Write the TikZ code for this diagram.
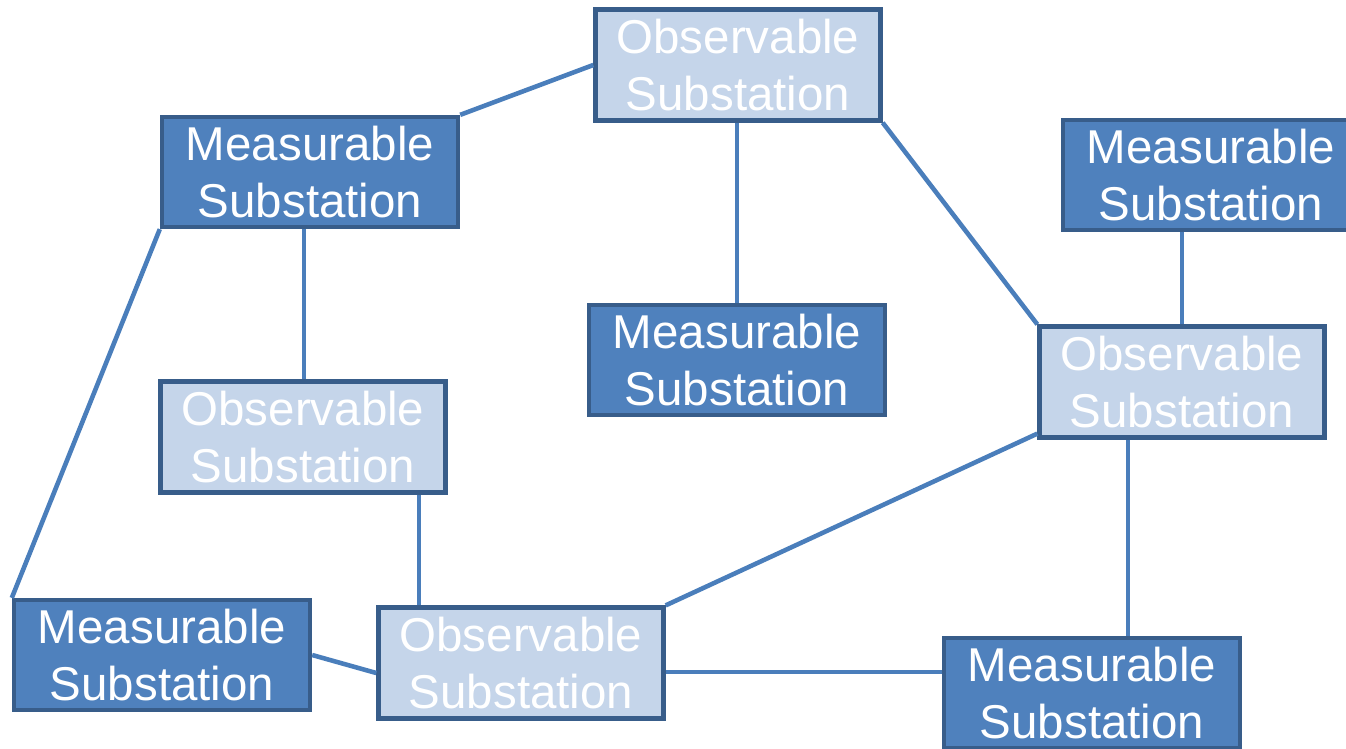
\documentclass[tikz,border=0pt]{standalone}
\usepackage{fontspec}
\setmainfont{Liberation Sans}
\usetikzlibrary{positioning,calc}
\definecolor{measfill}{HTML}{4F81BD}
\definecolor{obsfill}{HTML}{C5D5EA}
\definecolor{boxedge}{HTML}{385D8A}
\definecolor{linkcol}{HTML}{4A7EBB}
\tikzset{
  substation/.style={rectangle, draw=boxedge, line width=1.2pt, text=white,
    align=center, inner sep=0pt,
    font=\fontsize{13.5}{16.2}\selectfont},
  measurable/.style={substation, fill=measfill, minimum width=2.96cm, minimum height=1.1cm},
  observable/.style={substation, fill=obsfill, minimum width=2.85cm, minimum height=1.11cm},
  link/.style={draw=linkcol, line width=1.3pt}
}

\begin{document}
\begin{tikzpicture}[x=0.01cm,y=-0.01cm]
  \useasboundingbox (0,0) rectangle (1346,748);

  % substations
  \node[observable] (obsTop) at (738,65) {Observable\\Substation};
  \node[measurable] (measTL) at (310,172) {Measurable\\Substation};
  \node[measurable] (measTR) at (1211,175) {Measurable\\Substation};
  \node[measurable] (measMid) at (737,360) {Measurable\\Substation};
  \node[observable] (obsRight) at (1182,382) {Observable\\Substation};
  \node[observable] (obsLeft) at (303,437) {Observable\\Substation};
  \node[measurable] (measBL) at (162,655) {Measurable\\Substation};
  \node[observable] (obsBot) at (521,663) {Observable\\Substation};
  \node[measurable] (measBR) at (1092,693) {Measurable\\Substation};

  % links
  \begin{scope}[on background layer/.try]
    \draw[link] (obsTop.west) -- (measTL.north east);
    \draw[link] (measMid.north |- obsTop.south) -- (measMid.north);
    \draw[link] (obsTop.south east) -- (obsRight.north west);
    \draw[link] (obsRight.north) -- (obsRight.north |- measTR.south);
    \draw[link] ([xshift=-0.06cm]measTL.south) -- ([xshift=-0.06cm]measTL.south |- obsLeft.north);
    \draw[link] (measTL.south west) -- (measBL.north west);
    \draw[link] ([xshift=-1.02cm]obsBot.north) -- ([xshift=-1.02cm]obsBot.north |- obsLeft.south);
    \draw[link] (measBL.east) -- ([yshift=-0.1cm]obsBot.west);
    \draw[link] (obsBot.north east) -- ([yshift=0.06cm]obsRight.south west);
    \draw[link] ([yshift=-0.09cm]obsBot.east) coordinate (c1) -- (c1 -| measBR.west);
    \draw[link] ([xshift=-0.54cm]obsRight.south) coordinate (c2) -- (c2 |- measBR.north);
  \end{scope}
\end{tikzpicture}
\end{document}
